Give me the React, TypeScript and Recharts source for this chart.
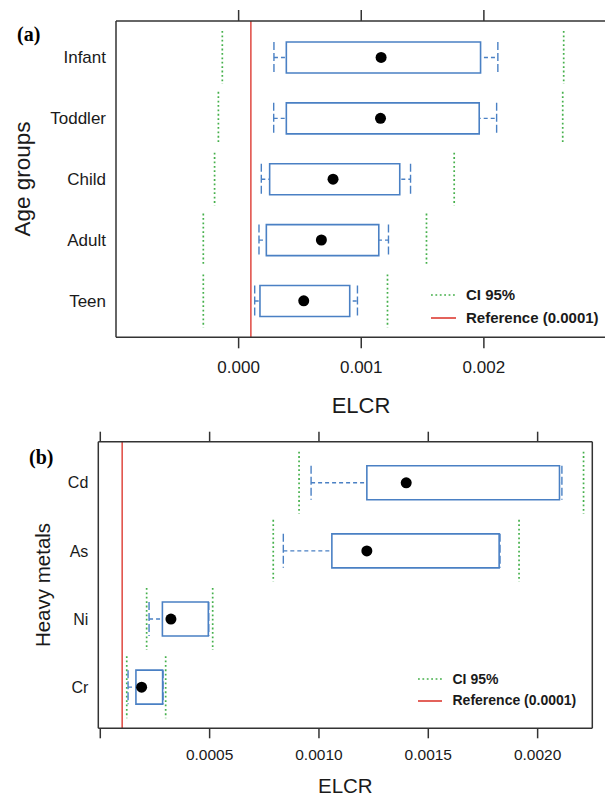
import React from 'react';
import { Bar, ComposedChart, Legend, ReferenceLine, Scatter, XAxis, YAxis } from 'recharts';

// (a) age groups
const ageGroups = ['Infant', 'Toddler', 'Child', 'Adult', 'Teen'];
const ageWhiskerLow = [0.000288, 0.000286, 0.000185, 0.000166, 0.000131];
const ageQ1 = [0.000389, 0.000389, 0.000253, 0.000226, 0.000174];
const ageMedian = [0.001162, 0.001157, 0.00077, 0.000675, 0.000531];
const ageQ3 = [0.001973, 0.001962, 0.001314, 0.001143, 0.000906];
const ageWhiskerHigh = [0.002114, 0.002104, 0.001402, 0.001222, 0.000969];
const ageCiLow = [-0.000133, -0.000165, -0.000196, -0.000288, -0.000288];
const ageCiHigh = [0.002651, 0.002643, 0.001758, 0.001532, 0.001214];
const ageTicks = [0, 0.001, 0.002];
const ageTickLabels = ['0.000', '0.001', '0.002'];

// (b) heavy metals
const metals = ['Cd', 'As', 'Ni', 'Cr'];
const metalWhiskerLow = [0.000964, 0.000837, 0.000223, 0.000127];
const metalQ1 = [0.001219, 0.001059, 0.000284, 0.000163];
const metalMedian = [0.001399, 0.001219, 0.000323, 0.000189];
const metalQ3 = [0.0021, 0.001824, 0.000494, 0.000285];
const metalWhiskerHigh = [0.002111, 0.001828, 0.000496, 0.000287];
const metalCiLow = [0.000909, 0.000791, 0.000212, 0.000121];
const metalCiHigh = [0.00221, 0.001915, 0.000514, 0.000299];
const metalTicks = [0, 0.0005, 0.001, 0.0015, 0.002];
const metalTickLabels = ['', '0.0005', '0.0010', '0.0015', '0.0020'];

const referenceValue = 0.0001;
const legendLabels = ['CI 95%', 'Reference (0.0001)'];

const FONT = '"Liberation Sans", Arial, sans-serif';
const SERIF = '"Liberation Serif", "Times New Roman", serif';
const BLUE = '#4a80c4';
const GREEN = '#45b04b';
const RED = '#dd3b33';
const FRAME = '#333';
const INK = '#1a1a1a';

const buildRows = (
  names: string[], wl: number[], q1: number[], med: number[], q3: number[], wh: number[], cl: number[], ch: number[],
) =>
  names.map((name, i) => ({
    name,
    whisker: [wl[i], wh[i]],
    box: [q1[i], q3[i]],
    median: med[i],
    ci: [cl[i], ch[i]],
  }));

const ageRows = buildRows(ageGroups, ageWhiskerLow, ageQ1, ageMedian, ageQ3, ageWhiskerHigh, ageCiLow, ageCiHigh);
const metalRows = buildRows(metals, metalWhiskerLow, metalQ1, metalMedian, metalQ3, metalWhiskerHigh, metalCiLow, metalCiHigh);

const CiShape = (p: any) => (
  <g stroke={GREEN} strokeWidth={1.7} strokeDasharray="1.8 2.6">
    <line x1={p.x} x2={p.x} y1={p.y} y2={p.y + p.height} />
    <line x1={p.x + p.width} x2={p.x + p.width} y1={p.y} y2={p.y + p.height} />
  </g>
);

const WhiskerShape = (p: any) => {
  const cy = p.y + p.height / 2;
  return (
    <g stroke={BLUE} strokeWidth={1.4} fill="none">
      <line x1={p.x} x2={p.x + p.width} y1={cy} y2={cy} strokeDasharray="4 3" />
      <line x1={p.x} x2={p.x} y1={p.y} y2={p.y + p.height} strokeDasharray="8 3" />
      <line x1={p.x + p.width} x2={p.x + p.width} y1={p.y} y2={p.y + p.height} strokeDasharray="8 3" />
    </g>
  );
};

const MedianDot = (p: any) => <circle cx={p.cx} cy={p.cy} r={5.5} fill="#000" />;

const makeLegend = (fontSize: number, rowHeight: number, sample: number, gap: number) => () => (
  <div style={{ fontFamily: FONT, fontWeight: 700, fontSize, color: INK }}>
    {legendLabels.map((label, i) => (
      <div key={label} style={{ display: 'flex', alignItems: 'center', height: rowHeight, lineHeight: `${rowHeight}px` }}>
        <svg width={sample} height={4} style={{ marginRight: gap }}>
          <line
            x1={0}
            x2={sample}
            y1={2}
            y2={2}
            stroke={i === 0 ? GREEN : RED}
            strokeWidth={1.6}
            strokeDasharray={i === 0 ? '1.8 2.6' : undefined}
          />
        </svg>
        <span>{label}</span>
      </div>
    ))}
  </div>
);

type PanelProps = {
  rows: ReturnType<typeof buildRows>;
  width: number;
  height: number;
  domain: [number, number];
  ticks: number[];
  tickLabels: string[];
  yWidth: number;
  topH: number;
  bottomH: number;
  marginRight: number;
  pad: number;
  boxSize: number;
  ciSize: number;
  yFont: number;
  xFont: number;
  tickSize: number;
  tickMargin: number;
  xTitle: { x: number; y: number; size: number };
  yTitle: { text: string; x: number; y: number; size: number };
  tag: { text: string; x: number; y: number };
  legend: { left: number; top: number; font: number; row: number; sample: number; gap: number };
};

const BoxPanel = (c: PanelProps) => {
  const padding = { top: c.pad, bottom: c.pad };
  return (
    <ComposedChart
      width={c.width}
      height={c.height}
      data={c.rows}
      layout="vertical"
      margin={{ top: 0, right: c.marginRight, bottom: 0, left: 0 }}
    >
      <XAxis
        type="number"
        domain={c.domain}
        ticks={c.ticks}
        allowDataOverflow
        height={c.bottomH}
        tickSize={c.tickSize}
        tickMargin={c.tickMargin}
        tickFormatter={(_v: number, i: number) => c.tickLabels[i] ?? ''}
        tick={{ fill: INK, fontSize: c.xFont, fontFamily: FONT }}
        axisLine={{ stroke: FRAME, strokeWidth: 1.5 }}
        tickLine={{ stroke: FRAME, strokeWidth: 1.5 }}
        label={() => (
          <text x={c.xTitle.x} y={c.xTitle.y} textAnchor="middle" fontSize={c.xTitle.size} fontFamily={FONT} fill={INK}>
            ELCR
          </text>
        )}
      />
      <XAxis
        xAxisId="top"
        orientation="top"
        type="number"
        domain={c.domain}
        ticks={c.ticks}
        allowDataOverflow
        height={c.topH}
        tickSize={c.tickSize}
        tickFormatter={() => ''}
        axisLine={{ stroke: FRAME, strokeWidth: 1.5 }}
        tickLine={{ stroke: FRAME, strokeWidth: 1.5 }}
      />
      <YAxis
        type="category"
        dataKey="name"
        width={c.yWidth}
        padding={padding}
        tickLine={false}
        tickSize={0}
        tickMargin={10}
        tick={{ fill: INK, fontSize: c.yFont, fontFamily: FONT }}
        axisLine={{ stroke: FRAME, strokeWidth: 1.5 }}
        label={() => (
          <g>
            <text
              transform={`translate(${c.yTitle.x},${c.yTitle.y}) rotate(-90)`}
              textAnchor="middle"
              fontSize={c.yTitle.size}
              fontFamily={FONT}
              fill={INK}
            >
              {c.yTitle.text}
            </text>
            <text x={c.tag.x} y={c.tag.y} fontSize={20} fontWeight={700} fontFamily={SERIF} fill="#000">
              {c.tag.text}
            </text>
          </g>
        )}
      />
      <YAxis yAxisId="w" type="category" dataKey="name" hide padding={padding} />
      <YAxis yAxisId="ci" type="category" dataKey="name" hide padding={padding} />
      <Bar yAxisId="ci" dataKey="ci" barSize={c.ciSize} shape={CiShape} isAnimationActive={false} />
      <Bar yAxisId="w" dataKey="whisker" barSize={c.boxSize} shape={WhiskerShape} isAnimationActive={false} />
      <Bar dataKey="box" barSize={c.boxSize} fill="#fff" stroke={BLUE} strokeWidth={1.6} isAnimationActive={false} />
      <ReferenceLine x={referenceValue} stroke={RED} strokeWidth={1.4} />
      <ReferenceLine x={c.domain[1]} stroke={FRAME} strokeWidth={1.5} />
      <Scatter dataKey="median" shape={MedianDot} isAnimationActive={false} />
      <Legend
        layout="horizontal"
        align="center"
        verticalAlign="middle"
        content={makeLegend(c.legend.font, c.legend.row, c.legend.sample, c.legend.gap)}
        wrapperStyle={{ left: c.legend.left, top: c.legend.top, width: 220, margin: 0 }}
      />
    </ComposedChart>
  );
};

export default function App() {
  return (
    <div style={{ position: 'absolute', left: 0, top: 0, width: 605, height: 798, overflow: 'hidden', background: '#fff' }}>
      <div style={{ position: 'absolute', left: 0, top: 0 }}>
        <BoxPanel
          rows={ageRows}
          width={620}
          height={430}
          domain={[-0.001, 0.003]}
          ticks={ageTicks}
          tickLabels={ageTickLabels}
          yWidth={116}
          topH={21}
          bottomH={92.7}
          marginRight={13.5}
          pad={6}
          boxSize={31}
          ciSize={53}
          yFont={17}
          xFont={17}
          tickSize={11}
          tickMargin={13}
          xTitle={{ x: 361, y: 413, size: 22 }}
          yTitle={{ text: 'Age groups', x: 29.5, y: 179, size: 22.5 }}
          tag={{ text: '(a)', x: 17, y: 41 }}
          legend={{ left: 431, top: 283, font: 15, row: 23, sample: 25, gap: 10 }}
        />
      </div>
      <div style={{ position: 'absolute', left: 0, top: 430 }}>
        <BoxPanel
          rows={metalRows}
          width={605}
          height={368}
          domain={[-0.0000091, 0.00225]}
          ticks={metalTicks}
          tickLabels={metalTickLabels}
          yWidth={98.3}
          topH={11.7}
          bottomH={69.7}
          marginRight={12.7}
          pad={7}
          boxSize={34}
          ciSize={62}
          yFont={16}
          xFont={15.5}
          tickSize={10}
          tickMargin={11}
          xTitle={{ x: 345.3, y: 363, size: 20.5 }}
          yTitle={{ text: 'Heavy metals', x: 50, y: 155, size: 20.5 }}
          tag={{ text: '(b)', x: 29, y: 34.3 }}
          legend={{ left: 418, top: 238.6, font: 14, row: 21.4, sample: 24, gap: 10.5 }}
        />
      </div>
    </div>
  );
}
